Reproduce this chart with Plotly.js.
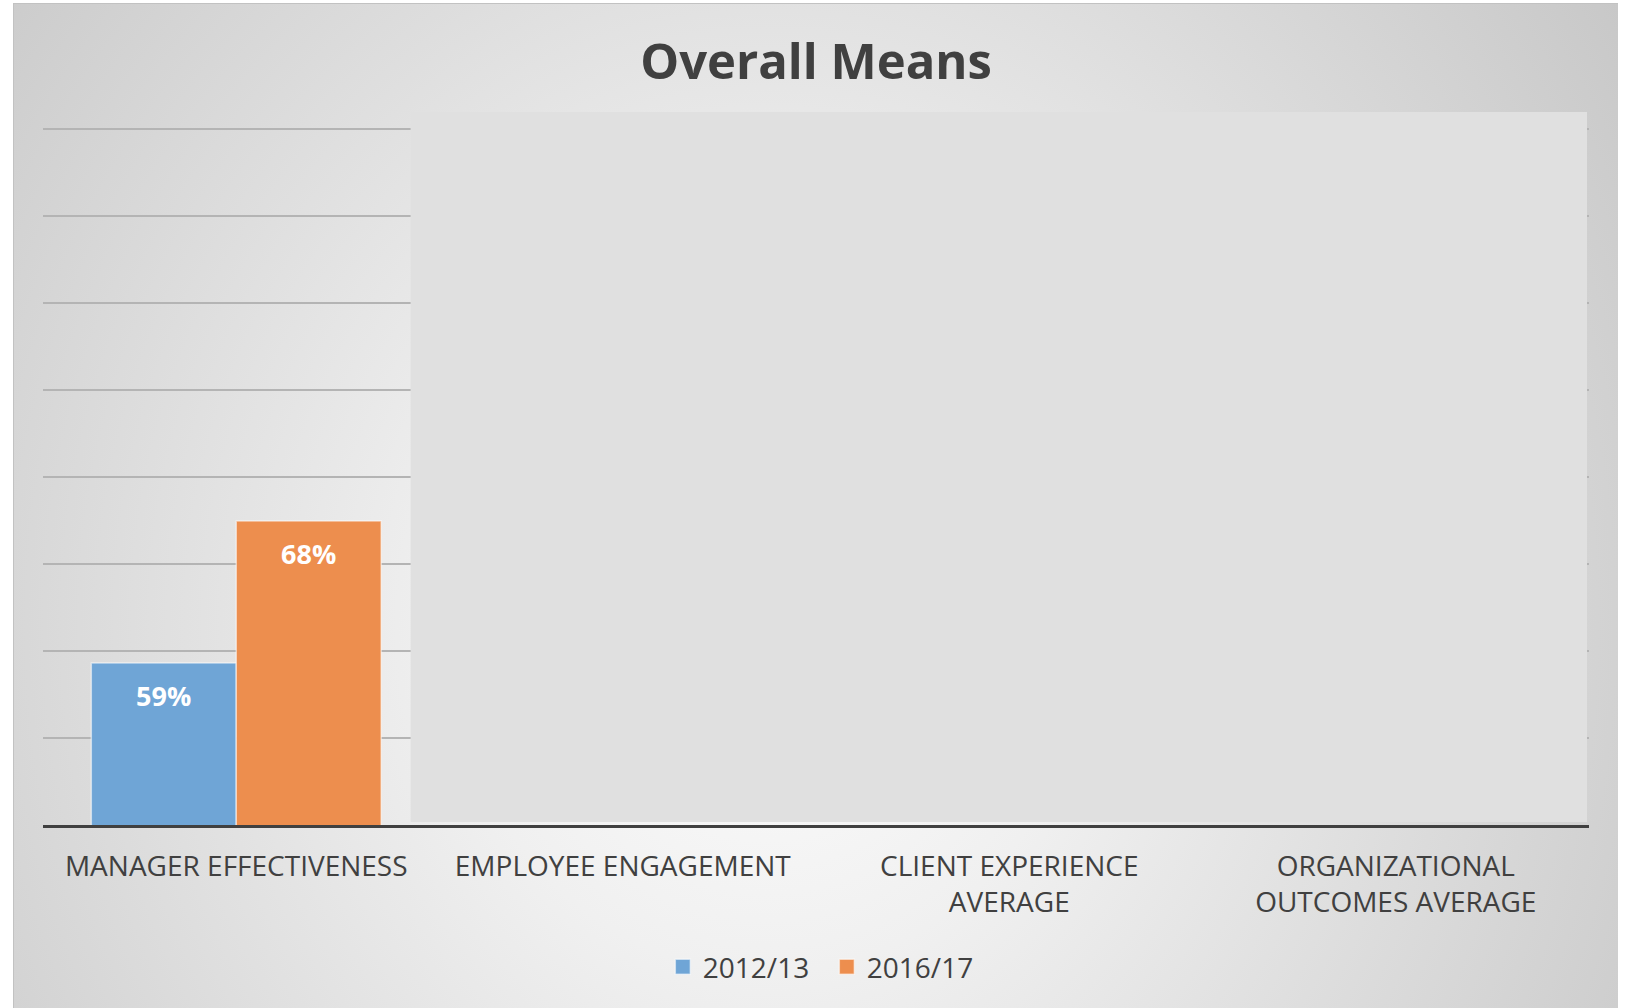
<!DOCTYPE html>
<html>
<head>
<meta charset="utf-8">
<script src="https://cdn.plot.ly/plotly-3.0.1.min.js"></script>
<style>
  html, body { margin: 0; padding: 0; background: #ffffff; width: 1626px; height: 1008px; overflow: hidden; }
  #bg {
    position: absolute; left: 13px; top: 3px; width: 1605px; height: 1005px;
    background: radial-gradient(ellipse 66% 115% at 47% 62%, #fdfdfd 0%, #f0f0f0 30%, #c6c6c6 100%);
    border-top: 1px solid #c2c2c2; border-left: 1px solid #c2c2c2; box-sizing: border-box;
  }
  #chart { position: absolute; left: 0; top: 0; width: 1626px; height: 1008px; }
</style>
</head>
<body>
<div id="bg"></div>
<div id="chart"></div>
<script>
// ---- data ----
const categories = ['Manager Effectiveness', 'Employee Engagement', 'Client Experience Average', 'Organizational Outcomes Average'];
const tickLabels = ['MANAGER EFFECTIVENESS', 'EMPLOYEE ENGAGEMENT', 'CLIENT EXPERIENCE<br>AVERAGE', 'ORGANIZATIONAL<br>OUTCOMES AVERAGE'];
const seriesNames = ['2012/13', '2016/17'];
const values2012 = [59, null, null, null];
const values2016 = [68, null, null, null];

const colors = ['#6fa5d6', '#ed8e4e'];
const allValues = [values2012, values2016];

const traces = allValues.map((vals, i) => ({
  type: 'bar',
  name: seriesNames[i],
  x: categories,
  y: vals,
  marker: { color: colors[i], line: { color: 'rgba(255,255,255,0.55)', width: 1.5 } },
  hoverinfo: 'skip'
}));

// data labels placed from the values through the axes
const annotations = [];
allValues.forEach((vals, i) => {
  vals.forEach((v, j) => {
    if (v === null) return;
    annotations.push({
      x: categories[j], y: v, xref: 'x', yref: 'y',
      text: '<b>' + v + '%</b>', showarrow: false,
      xshift: i === 0 ? -72.5 : 72.5, yshift: -33,
      font: { family: 'Open Sans', size: 27, color: '#ffffff' }
    });
  });
});

const PLOT_TOP = 125, PLOT_BOTTOM = 825, PLOT_H = PLOT_BOTTOM - PLOT_TOP;

const layout = {
  width: 1626, height: 1008,
  paper_bgcolor: 'rgba(0,0,0,0)',
  plot_bgcolor: 'rgba(0,0,0,0)',
  margin: { l: 43, r: 37, t: PLOT_TOP, b: 1008 - PLOT_BOTTOM },
  font: { family: 'Open Sans', color: '#404040' },
  title: {
    text: '<b>Overall Means</b>',
    x: 0.5, xref: 'paper', xanchor: 'center',
    y: 1 - 62 / 1008, yref: 'container', yanchor: 'middle',
    font: { family: 'Open Sans', size: 49, color: '#404040' }
  },
  barmode: 'group',
  bargap: 0.25,
  bargroupgap: 0,
  xaxis: {
    type: 'category',
    tickvals: categories,
    ticktext: tickLabels,
    tickfont: { family: 'Open Sans', size: 28, color: '#404040' },
    ticks: 'outside', ticklen: 14, tickcolor: 'rgba(0,0,0,0)',
    showline: true, linecolor: '#404040', linewidth: 3,
    showgrid: false, fixedrange: true
  },
  yaxis: {
    range: [48.73, 93.10],
    tick0: 48.73, dtick: 5.514,
    showticklabels: false, ticks: '',
    showgrid: true, gridcolor: '#b4b4b4', gridwidth: 1.5,
    zeroline: false, showline: false, fixedrange: true
  },
  legend: {
    orientation: 'h',
    entrywidth: 119, entrywidthmode: 'pixels',
    x: 0.507, xanchor: 'center',
    y: (PLOT_BOTTOM - 967) / PLOT_H, yanchor: 'middle',
    font: { family: 'Open Sans', size: 28, color: '#404040' },
    bgcolor: 'rgba(0,0,0,0)'
  },
  shapes: [{
    type: 'rect', layer: 'above',
    xref: 'paper', yref: 'paper',
    x0: (410.6 - 43) / 1546, x1: (1587 - 43) / 1546,
    y0: (PLOT_BOTTOM - 822) / PLOT_H, y1: (PLOT_BOTTOM - 112) / PLOT_H,
    fillcolor: '#e0e0e0', line: { width: 0 }
  }],
  annotations: annotations,
  showlegend: true
};

Plotly.newPlot('chart', traces, layout, { displayModeBar: false, staticPlot: true }).then(() => {
  // slightly larger legend squares, as in the original
  document.querySelectorAll('#chart .legendpoints path').forEach(p => {
    p.setAttribute('d', 'M7.5,7.5H-7.5V-7.5H7.5Z');
  });
});
</script>
</body>
</html>
